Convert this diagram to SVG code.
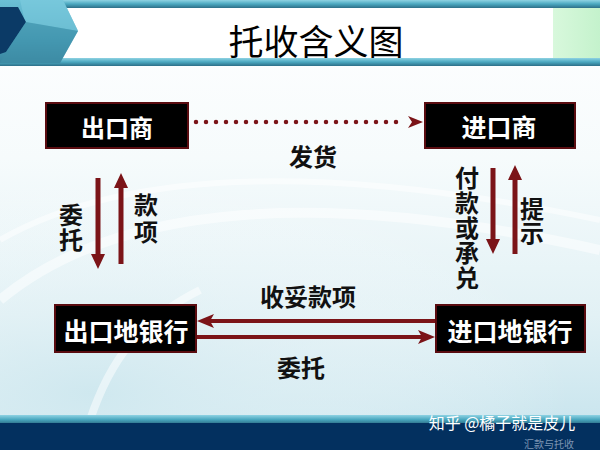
<svg xmlns="http://www.w3.org/2000/svg" width="600" height="450" viewBox="0 0 600 450">
<defs>
<style>
.box{fill:#000;stroke:#5a0c10;stroke-width:2}
.bt{fill:#fff;font-family:"Noto Sans CJK SC","Noto Sans",sans-serif;font-weight:bold;text-anchor:middle;dominant-baseline:central}
.lb{fill:#111;font-family:"Noto Sans CJK SC","Noto Sans",sans-serif;font-weight:bold;font-size:24px;text-anchor:middle;dominant-baseline:central}
.vl{fill:#111;font-family:"Noto Sans CJK SC","Noto Sans",sans-serif;font-weight:bold;font-size:24px;writing-mode:vertical-rl;text-orientation:upright;text-anchor:start}
.ar{stroke:#7b1418;fill:none}
.ah{fill:#7b1418}
</style>
<linearGradient id="bg" x1="0" y1="0" x2="0" y2="1">
<stop offset="0" stop-color="#ffffff"/>
<stop offset="0.35" stop-color="#f6fbfc"/>
<stop offset="0.7" stop-color="#e2f1f5"/>
<stop offset="1" stop-color="#c3e2ec"/>
</linearGradient>
<radialGradient id="sw" cx="0.15" cy="0.9" r="0.8">
<stop offset="0" stop-color="#cfe8ef" stop-opacity="0.9"/>
<stop offset="1" stop-color="#ffffff" stop-opacity="0"/>
</radialGradient>
<linearGradient id="bar" x1="0" y1="0" x2="0" y2="1">
<stop offset="0" stop-color="#8fd3e3"/>
<stop offset="0.5" stop-color="#4aa8c0"/>
<stop offset="1" stop-color="#2d6f88"/>
</linearGradient>
<linearGradient id="chev" x1="0" y1="0" x2="0" y2="1">
<stop offset="0" stop-color="#6cc0d6"/>
<stop offset="0.6" stop-color="#4aa2bc"/>
<stop offset="1" stop-color="#3a86a0"/>
</linearGradient>
<linearGradient id="grn" x1="0" y1="0" x2="1" y2="0">
<stop offset="0" stop-color="#d8f8dc"/>
<stop offset="1" stop-color="#c4f2cc"/>
</linearGradient>
</defs>

<!-- background -->
<rect x="0" y="0" width="600" height="450" fill="url(#bg)"/>
<rect x="0" y="150" width="600" height="270" fill="url(#sw)"/>
<path d="M0,300 C120,200 330,190 600,250" fill="none" stroke="#ffffff" stroke-width="10" stroke-opacity="0.5"/>
<path d="M0,240 C140,160 360,170 600,220" fill="none" stroke="#ffffff" stroke-width="6" stroke-opacity="0.5"/>
<path d="M90,420 C110,360 140,320 200,290" fill="none" stroke="#ffffff" stroke-width="8" stroke-opacity="0.5"/>

<!-- header -->
<g id="header">
<rect x="0" y="0" width="600" height="8" fill="url(#bar)"/>
<rect x="0" y="8" width="600" height="51" fill="#ffffff"/>
<rect x="553" y="8" width="47" height="51" fill="url(#grn)"/>
<rect x="0" y="58" width="600" height="8" fill="url(#bar)"/>
<polygon points="0,0 63,0 78,31 60,63 0,63" fill="url(#chev)"/>
<polygon points="20,0 63,0 78,31 25,22" fill="#7fcde0" opacity="0.6"/>
<polygon points="0,7 18,7 26,22 6,52 0,54" fill="#0b3a66"/>
<polygon points="6,52 26,22 78,31 60,63 0,63" fill="#3f8fa8" opacity="0.5"/>
<text x="316" y="39" font-family="'Noto Sans CJK SC',sans-serif" font-size="35" fill="#000" text-anchor="middle" dominant-baseline="central">托收含义图</text>
</g>

<!-- footer -->
<g id="footer">
<rect x="0" y="415" width="600" height="9" fill="url(#bar)"/>
<rect x="0" y="423" width="600" height="27" fill="#03305f"/>
<text x="502" y="422" font-family="'Noto Sans CJK SC',sans-serif" font-size="16" fill="#ffffff" text-anchor="middle" dominant-baseline="central">知乎 @橘子就是皮儿</text>
<text x="549" y="443" font-family="'Noto Sans CJK SC',sans-serif" font-size="10" fill="#7f96b4" text-anchor="middle" dominant-baseline="central">汇款与托收</text>
</g>

<!-- connectors -->
<g id="connectors">
<line class="ar" x1="196" y1="122" x2="404" y2="122" stroke-width="4.5" stroke-linecap="round" stroke-dasharray="0 10"/>
<polygon class="ah" points="408,116 423,122 408,128 412,122"/>

<line class="ar" x1="98" y1="178" x2="98" y2="256" stroke-width="5"/>
<polygon class="ah" points="91,254 105,254 98,269"/>
<line class="ar" x1="121" y1="264" x2="121" y2="186" stroke-width="5"/>
<polygon class="ah" points="114,188 128,188 121,173"/>

<line class="ar" x1="493" y1="168" x2="493" y2="241" stroke-width="5"/>
<polygon class="ah" points="486,239 500,239 493,254"/>
<line class="ar" x1="515" y1="254" x2="515" y2="178" stroke-width="5"/>
<polygon class="ah" points="508,180 522,180 515,165"/>

<line class="ar" x1="435" y1="321" x2="208" y2="321" stroke-width="4"/>
<polygon class="ah" points="197,321 214,314 210,321 214,328"/>
<line class="ar" x1="197" y1="337" x2="424" y2="337" stroke-width="4"/>
<polygon class="ah" points="435,337 418,330 422,337 418,344"/>
</g>

<!-- nodes -->
<g id="exporter">
<rect class="box" x="46" y="103" width="142" height="45"/>
<text class="bt" x="117" y="126" font-size="24">出口商</text>
</g>
<g id="importer">
<rect class="box" x="425" y="103" width="150" height="45"/>
<text class="bt" x="499" y="126" font-size="25">进口商</text>
</g>
<g id="exporter-bank">
<rect class="box" x="55" y="305" width="141" height="47"/>
<text class="bt" x="126" y="330" font-size="25">出口地银行</text>
</g>
<g id="importer-bank">
<rect class="box" x="436" y="305" width="149" height="47"/>
<text class="bt" x="510" y="330" font-size="25">进口地银行</text>
</g>

<!-- labels -->
<g id="labels">
<text class="lb" x="313" y="155">发货</text>
<text class="vl" x="71" y="203" letter-spacing="1">委托</text>
<text class="vl" x="146" y="193" letter-spacing="3">款项</text>
<text class="vl" x="467" y="166" letter-spacing="1">付款或承兑</text>
<text class="vl" x="532" y="197" letter-spacing="0">提示</text>
<text class="lb" x="308" y="295">收妥款项</text>
<text class="lb" x="301" y="366">委托</text>
</g>
</svg>
